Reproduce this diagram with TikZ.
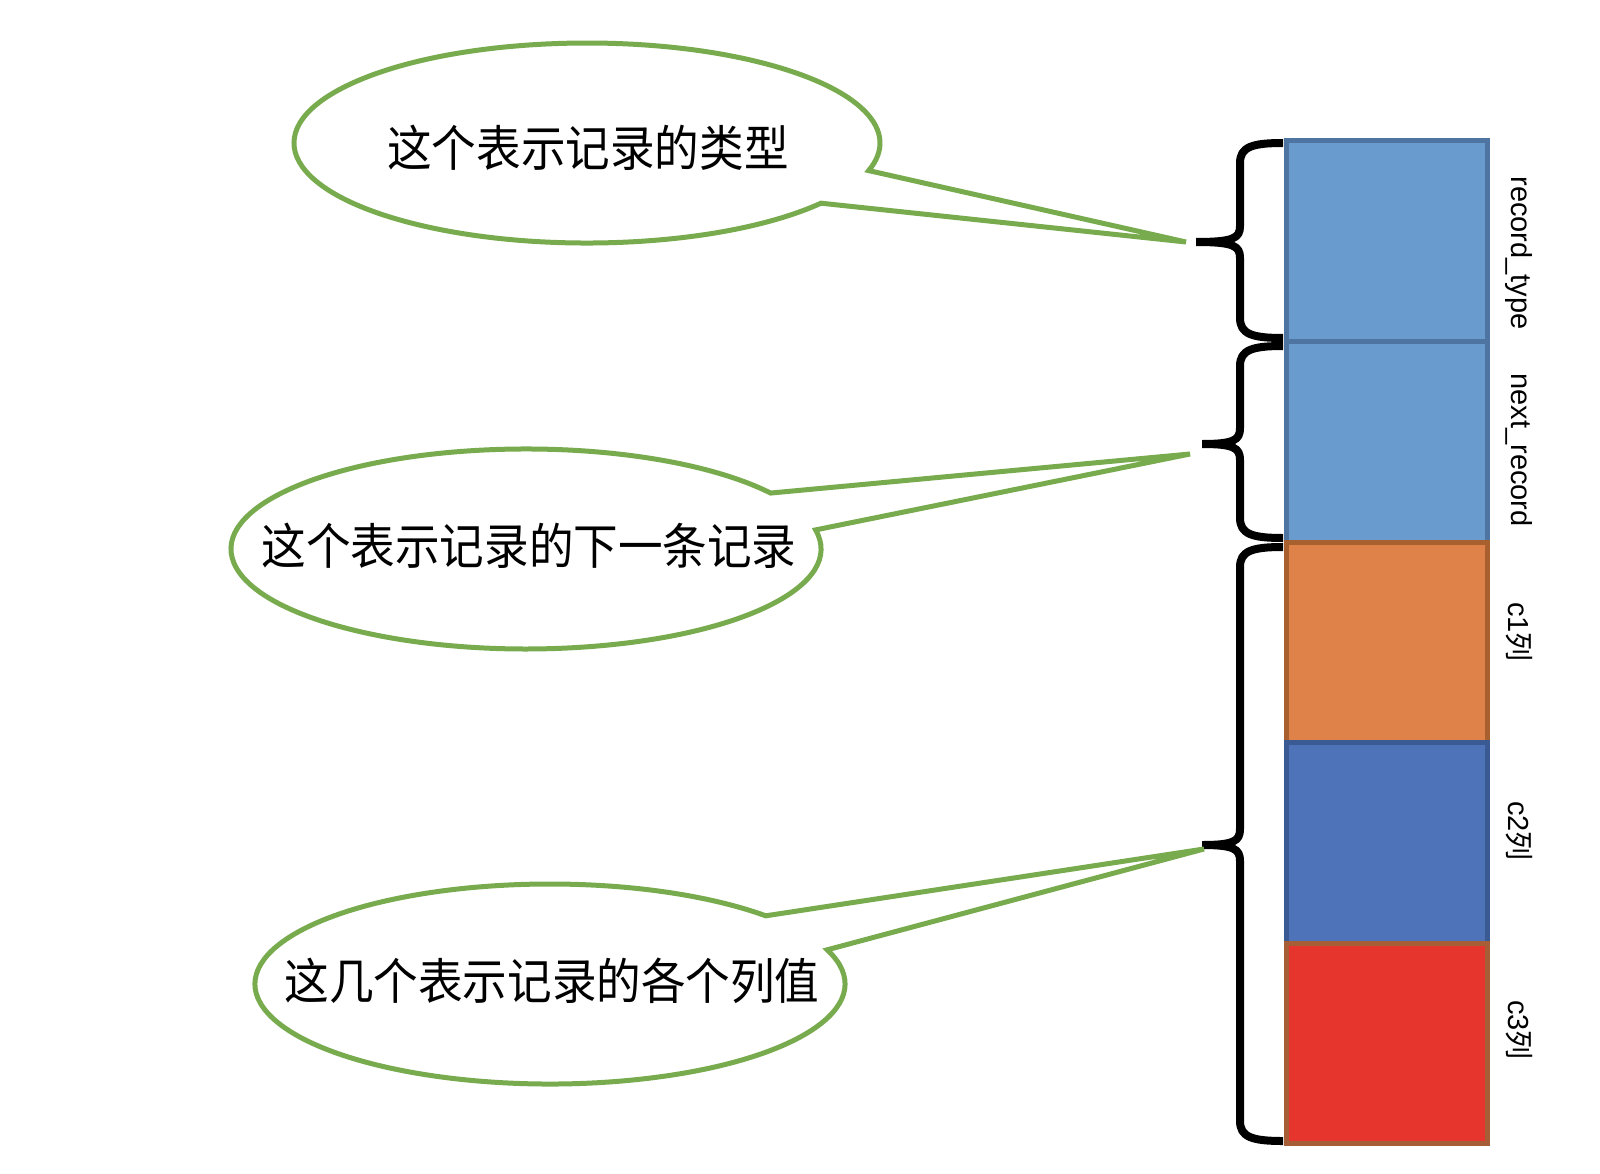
\documentclass[tikz,border=0pt]{standalone}
\usepackage{fontspec}
\setmainfont{Liberation Sans}
\newfontfamily\cjk{Noto Sans CJK SC}
\definecolor{callgreen}{HTML}{78AB4E}
\definecolor{lbfill}{HTML}{6A9BCF}
\definecolor{lbline}{HTML}{4E74A2}
\definecolor{orfill}{HTML}{DE8249}
\definecolor{orline}{HTML}{A8602F}
\definecolor{dbfill}{HTML}{4F73B9}
\definecolor{dbline}{HTML}{3A5A93}
\definecolor{rdfill}{HTML}{E5352D}
\definecolor{rdline}{HTML}{A55E35}
\begin{document}
\begin{tikzpicture}[x=1pt,y=-1pt,
  callout/.style={draw=callgreen,line width=5pt,fill=white,line join=miter},
  bracepath/.style={draw=black,line width=8pt,line cap=butt,line join=round},
  cell/.style={line width=5pt},
  calltext/.style={font=\cjk\fontsize{49}{52}\selectfont,inner sep=0pt,xscale=0.91},
  vlabel/.style={font=\fontsize{29}{32}\selectfont,rotate=-90,inner sep=0pt}]
\useasboundingbox (0,0) rectangle (1600,1174);

% cells
\draw[cell,fill=lbfill,draw=lbline] (1286,141) rectangle (1487,341);
\draw[cell,fill=lbfill,draw=lbline] (1286,341) rectangle (1487,542);
\draw[cell,fill=orfill,draw=orline] (1286,542) rectangle (1487,742);
\draw[cell,fill=dbfill,draw=dbline] (1286,742) rectangle (1487,943);
\draw[cell,fill=rdfill,draw=rdline] (1286,943) rectangle (1487,1143);

% labels
\node[vlabel] (l1) at (1519,253) {record\_type};
\node[vlabel] (l2) at (1519,450) {next\_record};
\node[vlabel] (l3) at (1519,632) {c1{\cjk 列}};
\node[vlabel] (l4) at (1519,831) {c2{\cjk 列}};
\node[vlabel] (l5) at (1519,1030) {c3{\cjk 列}};

% braces
\coordinate (t1) at (1196,242);
\coordinate (t2) at (1202,444);
\coordinate (t3) at (1202,845);
\draw[bracepath] (1283,143) .. controls (1252,143) and (1240,147) .. (1240,163)
  -- (1240,226) .. controls (1240,238) and (1234,242) .. (t1)
  (t1) .. controls (1234,242) and (1240,246) .. (1240,258)
  -- (1240,318) .. controls (1240,334) and (1252,338) .. (1283,338);
\draw[bracepath] (1283,346) .. controls (1252,346) and (1240,350) .. (1240,366)
  -- (1240,428) .. controls (1240,440) and (1234,444) .. (t2)
  (t2) .. controls (1234,444) and (1240,448) .. (1240,460)
  -- (1240,518) .. controls (1240,534) and (1252,538) .. (1283,538);
\draw[bracepath] (1283,547) .. controls (1252,547) and (1240,551) .. (1240,567)
  -- (1240,829) .. controls (1240,841) and (1234,845) .. (t3)
  (t3) .. controls (1234,845) and (1240,849) .. (1240,861)
  -- (1240,1121) .. controls (1240,1137) and (1252,1141) .. (1283,1141);

% callouts
\coordinate (p1) at (1186,242);
\coordinate (p2) at (1190,454);
\coordinate (p3) at (1204,849);
\draw[callout] (821.0,203.2) arc[start angle=37,end angle=376,x radius=293,y radius=100] -- (p1) -- cycle;
\draw[callout] (815.6,529.9) arc[start angle=-11,end angle=326,x radius=295,y radius=100] -- (p2) -- cycle;
\draw[callout] (827.2,949.8) arc[start angle=-20,end angle=317,x radius=295,y radius=100] -- (p3) -- cycle;

\node[calltext] (c1) at (588,148) {这个表示记录的类型};
\node[calltext] (c2) at (529,546) {这个表示记录的下一条记录};
\node[calltext] (c3) at (552,981) {这几个表示记录的各个列值};
\end{tikzpicture}
\end{document}
